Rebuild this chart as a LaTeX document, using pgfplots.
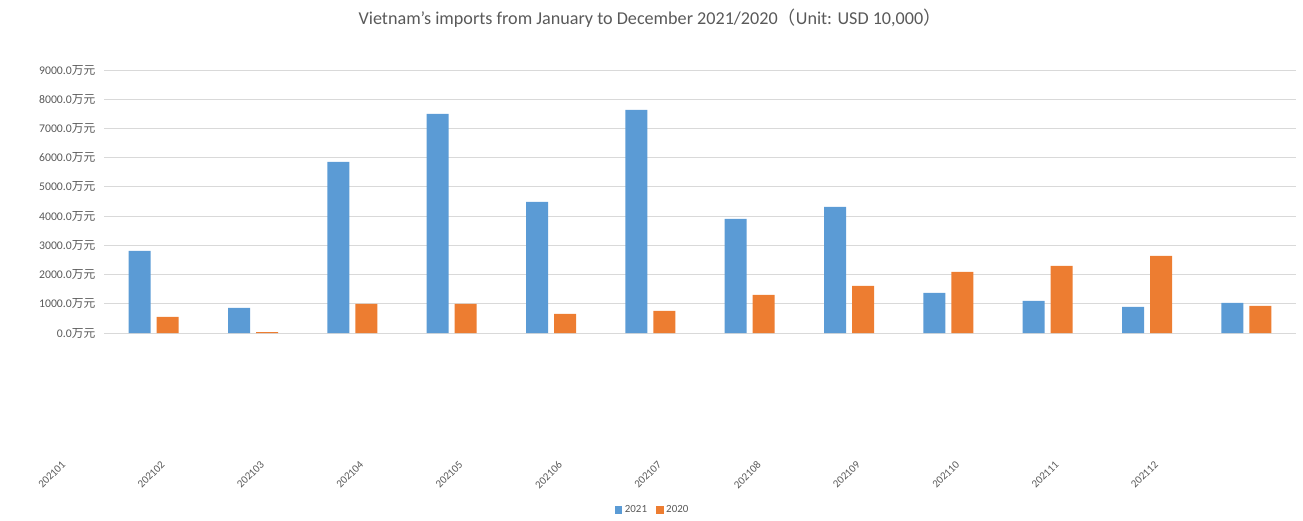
\documentclass[border=0pt]{standalone}
\usepackage{fontspec}
\setmainfont{Carlito}
\newfontfamily\cjk{Noto Sans CJK SC}
\usepackage{pgfplots}
\pgfplotsset{compat=1.18}
\definecolor{cblue}{HTML}{5B9BD5}
\definecolor{corange}{HTML}{ED7D31}
\definecolor{tgrey}{HTML}{595959}
\definecolor{ggrey}{HTML}{D9D9D9}
\begin{document}
\begin{tikzpicture}
\useasboundingbox (-78bp,-141bp) rectangle (899.25bp,249.75bp);
\begin{axis}[
  at={(0,0)}, anchor=south west,
  scale only axis, width=894bp, height=197.25bp,
  ybar=4.5bp, bar width=16.5bp,
  xmin=-0.5, xmax=11.5, ymin=0, ymax=9000,
  axis line style={draw=none},
  major tick length=0pt,
  ymajorgrids, grid style={ggrey, line width=0.75bp},
  ytick={0,1000,...,9000},
  yticklabels={0.0{\cjk 万元},1000.0{\cjk 万元},2000.0{\cjk 万元},3000.0{\cjk 万元},4000.0{\cjk 万元},5000.0{\cjk 万元},6000.0{\cjk 万元},7000.0{\cjk 万元},8000.0{\cjk 万元},9000.0{\cjk 万元}},
  yticklabel style={font=\fontsize{8.8bp}{9.5bp}\selectfont, text=tgrey, xshift=-3bp},
  xtick={0,...,11},
  xticklabels={202101,202102,202103,202104,202105,202106,202107,202108,202109,202110,202111,202112},
  xticklabel style={font=\fontsize{8.2bp}{9bp}\selectfont, text=tgrey, xshift=-69.5bp, yshift=-90.5bp, rotate=45, anchor=north east},
  legend style={at={(0.4606,-0.673)}, anchor=center, draw=none, fill=none, legend columns=2,
    font=\fontsize{8.2bp}{9bp}\selectfont, text=tgrey,
    /tikz/every even column/.append style={column sep=5bp}},
  legend image code/.code={\fill[#1] (0bp,-2.7bp) rectangle (5.4bp,2.7bp);},
]
\addplot[fill=cblue, draw=none] coordinates {(0,2808) (1,856) (2,5856) (3,7500) (4,4486) (5,7637) (6,3904) (7,4315) (8,1370) (9,1096) (10,890) (11,1027)};
\addplot[fill=corange, draw=none] coordinates {(0,548) (1,34) (2,993) (3,1000) (4,651) (5,753) (6,1301) (7,1610) (8,2089) (9,2295) (10,2637) (11,925)};
\legend{2021,2020}
\end{axis}
\node[text=tgrey, font=\fontsize{13.6bp}{15bp}\selectfont] at (409.5bp,236.25bp) {Vietnam's imports from January to December 2021/2020{\cjk （}Unit: USD 10,000{\cjk ）}};
\end{tikzpicture}
\end{document}
